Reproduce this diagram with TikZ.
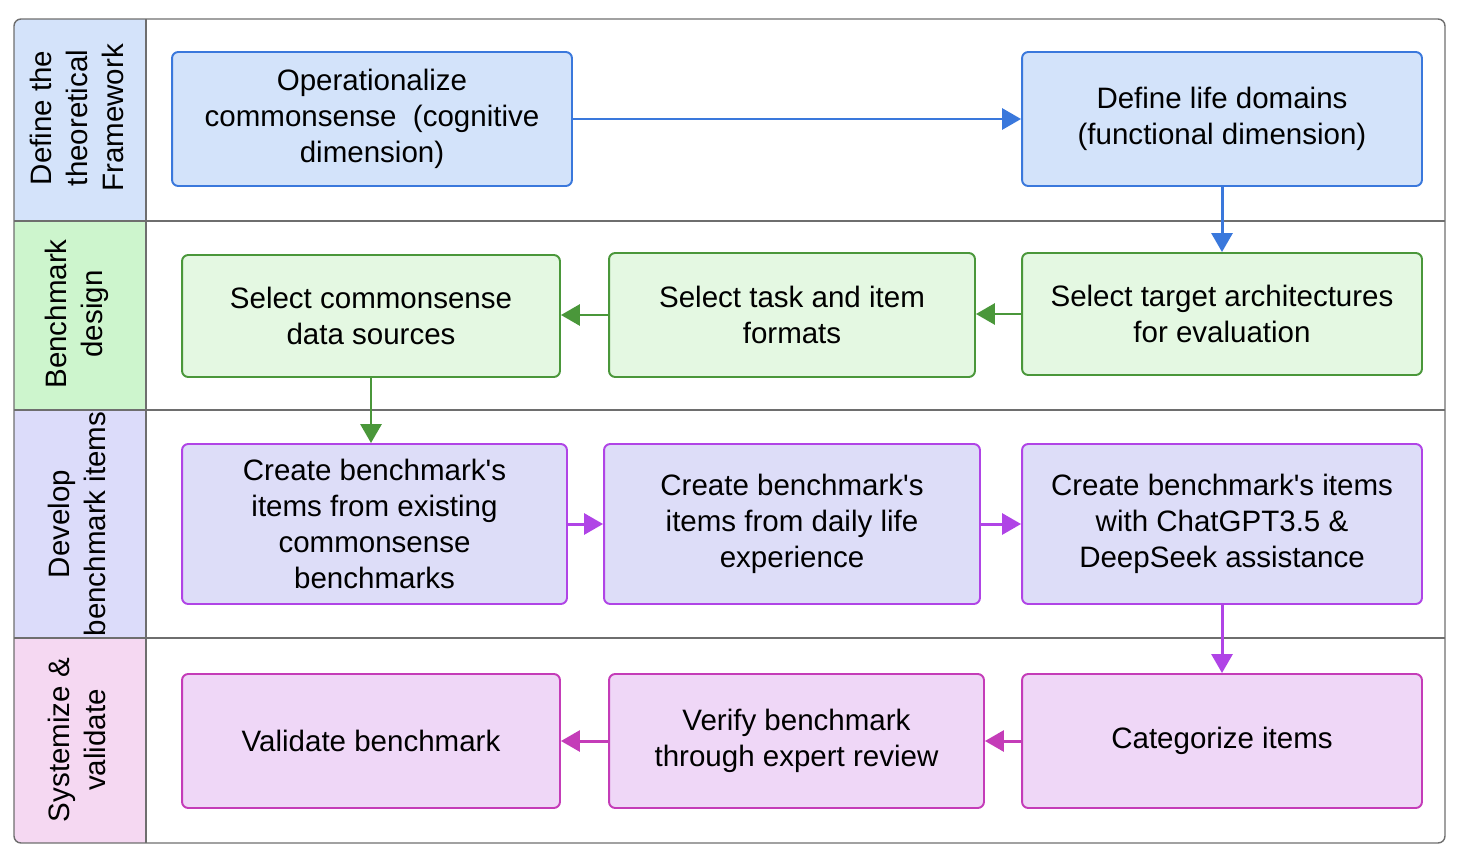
\documentclass[tikz,border=0pt]{standalone}
\usepackage{fontspec}
\setmainfont{Liberation Sans}
\usepackage{tikz}
\usetikzlibrary{arrows.meta, positioning}

\definecolor{BlueHead}{HTML}{D4E3FA}
\definecolor{BlueFill}{HTML}{D3E3FA}
\definecolor{BlueLine}{HTML}{3A78DC}
\definecolor{GreenHead}{HTML}{CDF5CD}
\definecolor{GreenFill}{HTML}{E4F8E2}
\definecolor{GreenLine}{HTML}{4A973A}
\definecolor{LavHead}{HTML}{DCDCFA}
\definecolor{LavFill}{HTML}{DDDDF8}
\definecolor{LavLine}{HTML}{B044E6}
\definecolor{PinkHead}{HTML}{F5D8F2}
\definecolor{PinkFill}{HTML}{EFD7F7}
\definecolor{PinkLine}{HTML}{C43CB8}
\definecolor{FrameGray}{HTML}{6E6E6E}

\begin{document}
\begin{tikzpicture}[x=0.02cm, y=-0.02cm,
  stage/.style={rectangle, rounded corners=3.5pt, line width=1.1pt,
    inner sep=0pt, align=center, font=\fontsize{16.8}{20.5}\selectfont},
  think/.style={stage, draw=BlueLine, fill=BlueFill},
  design/.style={stage, draw=GreenLine, fill=GreenFill},
  develop/.style={stage, draw=LavLine, fill=LavFill},
  check/.style={stage, draw=PinkLine, fill=PinkFill},
  lanetext/.style={rotate=90, align=center, inner sep=0pt,
    font=\fontsize{16.8}{20.5}\selectfont},
  arr/.style={-{Triangle[length=0.38cm, width=0.42cm]}, line width=1.7pt},
]

\useasboundingbox (0,0) rectangle (1460,862);

% Lane headers
\begin{scope}
  \clip[rounded corners=4pt] (14,19) rectangle (1445,843);
  \fill[BlueHead] (14,19) rectangle (146,221);
  \fill[GreenHead] (14,221) rectangle (146,410);
  \fill[LavHead] (14,410) rectangle (146,638);
  \fill[PinkHead] (14,638) rectangle (146,843);
\end{scope}
\draw[FrameGray, line width=0.6pt] (14,221) -- (1445,221);
\draw[FrameGray, line width=0.6pt] (14,410) -- (1445,410);
\draw[FrameGray, line width=0.6pt] (14,638) -- (1445,638);
\draw[FrameGray, line width=0.6pt] (146,19) -- (146,843);
\draw[FrameGray, line width=0.8pt, rounded corners=4pt] (14,19) rectangle (1445,843);

\node[lanetext] (lane1) at (77,118) {Define the\\theoretical\\Framework};
\node[lanetext] (lane2) at (77,314) {Benchmark\\design};
\node[lanetext] (lane3) at (77,524) {Develop\\benchmark items};
\node[lanetext] (lane4) at (77,740) {Systemize \&\\validate};

% Row 1
\node[think, minimum width=8cm, minimum height=2.68cm] (ops) at (372,119)
  {Operationalize\\commonsense~~(cognitive\\dimension)};
\node[think, minimum width=8cm, minimum height=2.68cm] (dom) at (1222,119)
  {Define life domains\\(functional dimension)};

% Row 2
\node[design, minimum width=7.56cm, minimum height=2.44cm] (src) at (371,316)
  {Select commonsense\\data sources};
\node[design, minimum width=7.32cm, minimum height=2.48cm] (fmt) at (792,315)
  {Select task and item\\formats};
\node[design, minimum width=8cm, minimum height=2.44cm] (arch) at (1222,314)
  {Select target architectures\\for evaluation};

% Row 3
\node[develop, minimum width=7.7cm, minimum height=3.2cm] (exist) at (374.5,524)
  {Create benchmark\textquotesingle s\\items from existing\\commonsense\\benchmarks};
\node[develop, minimum width=7.52cm, minimum height=3.2cm] (daily) at (792,524)
  {Create benchmark\textquotesingle s\\items from daily life\\experience};
\node[develop, minimum width=8cm, minimum height=3.2cm] (gpt) at (1222,524)
  {Create benchmark\textquotesingle s items\\with ChatGPT3.5 \&\\DeepSeek assistance};

% Row 4
\node[check, minimum width=7.56cm, minimum height=2.68cm] (valid) at (371,741)
  {Validate benchmark};
\node[check, minimum width=7.5cm, minimum height=2.68cm] (verify) at (796.5,741)
  {Verify benchmark\\through expert review};
\node[check, minimum width=8cm, minimum height=2.68cm] (categ) at (1222,741)
  {Categorize items};

% Arrows
\draw[arr, BlueLine] (ops) -- (dom);
\draw[arr, BlueLine] (dom.south) -- (arch.north);
\draw[arr, GreenLine] (arch.west) -- (arch.west -| fmt.east);
\draw[arr, GreenLine] (fmt.west) -- (fmt.west -| src.east);
\draw[arr, GreenLine] (src.south) -- (src.south |- exist.north);
\draw[arr, LavLine] (exist.east) -- (daily.west);
\draw[arr, LavLine] (daily.east) -- (gpt.west);
\draw[arr, LavLine] (gpt.south) -- (categ.north);
\draw[arr, PinkLine] (categ.west) -- (verify.east);
\draw[arr, PinkLine] (verify.west) -- (valid.east);

\end{tikzpicture}
\end{document}
